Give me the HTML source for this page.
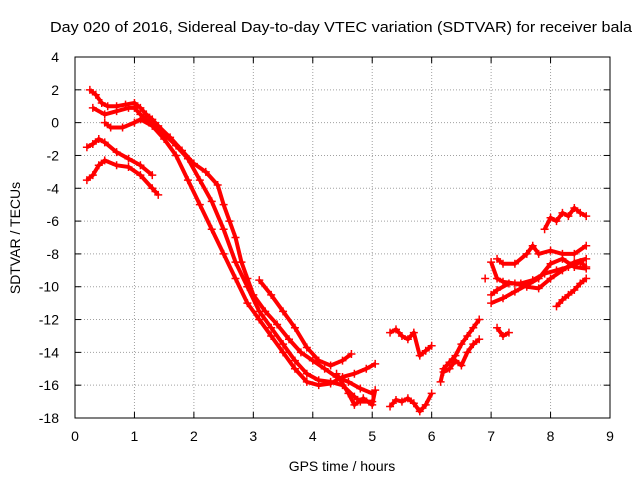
<!DOCTYPE html>
<html><head><meta charset="utf-8"><style>
body{margin:0;background:#fff}
svg text{font-family:"Liberation Sans",sans-serif;font-size:14px;fill:#000}
</style></head><body>
<svg id="chart" width="640" height="480" xmlns="http://www.w3.org/2000/svg">
<rect width="640" height="480" fill="#fff"/>
<text x="50" y="32" textLength="582" lengthAdjust="spacingAndGlyphs" style="font-size:15px">Day 020 of 2016, Sidereal Day-to-day VTEC variation (SDTVAR) for receiver bala</text>
<text x="342" y="471" text-anchor="middle">GPS time / hours</text>
<text x="0" y="0" transform="translate(20,238) rotate(-90)" text-anchor="middle">SDTVAR / TECUs</text>
<g id="grid"></g><g id="axes"></g><g id="marks"></g>
</svg>
<script>
const xTicks=[0,1,2,3,4,5,6,7,8,9];
const yTicks=[4,2,0,-2,-4,-6,-8,-10,-12,-14,-16,-18];
const trackA=[[0.25,2],[0.35,1.7],[0.45,1.2],[0.55,1],[0.7,1],[0.85,1.1],[1.0,1.2],[1.1,0.9],[1.2,0.5],[1.3,0.2],[1.4,-0.2],[1.6,-0.9],[1.8,-1.7],[2.0,-2.5],[2.2,-3],[2.4,-3.8],[2.5,-5],[2.6,-6],[2.7,-7],[2.8,-8.5],[2.9,-9.5],[3.0,-10.5],[3.2,-11.5],[3.4,-12.3],[3.6,-13.2],[3.8,-14],[4.0,-14.5],[4.2,-15],[4.4,-15.5],[4.6,-15.8],[4.8,-16.2],[5.0,-16.5]];
const trackB=[[0.3,0.9],[0.5,0.5],[0.7,0.7],[0.9,0.9],[1.0,0.9],[1.1,0.5],[1.3,-0.1],[1.5,-0.7],[1.7,-1.4],[1.9,-2.2],[2.1,-3.5],[2.3,-4.8],[2.5,-6.5],[2.7,-8.5],[2.9,-10],[3.1,-11.5],[3.3,-12.5],[3.5,-13.5],[3.7,-14.5],[3.9,-15.3],[4.1,-15.7],[4.3,-15.8],[4.5,-16],[4.7,-16.7],[4.8,-17],[5.0,-17]];
const trackC=[[0.5,0],[0.6,-0.3],[0.8,-0.3],[1.0,0],[1.1,0.2],[1.3,-0.2],[1.5,-1],[1.7,-2],[1.9,-3.5],[2.1,-5],[2.3,-6.5],[2.5,-8],[2.7,-9.5],[2.9,-11],[3.1,-12],[3.3,-13],[3.5,-14],[3.7,-15],[3.9,-15.8],[4.1,-16],[4.3,-15.9],[4.5,-15.5],[4.7,-15.3],[4.9,-15],[5.05,-14.7]];
const trackD=[[0.2,-1.5],[0.3,-1.3],[0.4,-1],[0.5,-1.2],[0.7,-1.8],[0.9,-2.2],[1.1,-2.6],[1.3,-3.2]];
const trackE=[[0.2,-3.5],[0.3,-3.2],[0.4,-2.6],[0.5,-2.3],[0.7,-2.6],[0.9,-2.7],[1.1,-3.2],[1.3,-4],[1.4,-4.4]];
const trackF=[[3.1,-9.6],[3.3,-10.5],[3.5,-11.5],[3.7,-12.5],[3.9,-13.7],[4.1,-14.5],[4.3,-14.8],[4.5,-14.5],[4.65,-14.1]];
const trackG=[[4.4,-15.3],[4.6,-16.5],[4.7,-17.2],[4.85,-16.8],[5.0,-17.2],[5.05,-16.3]];
const trackH=[[5.3,-12.8],[5.4,-12.6],[5.5,-13],[5.6,-13.2],[5.7,-12.8],[5.8,-14.2],[5.9,-13.9],[6.0,-13.6]];
const trackI=[[5.3,-17.3],[5.4,-16.9],[5.5,-17],[5.6,-16.8],[5.7,-17.1],[5.8,-17.6],[5.9,-17.2],[6.0,-16.5]];
const trackJ=[[6.15,-15.8],[6.2,-15],[6.3,-14.6],[6.4,-14.2],[6.5,-13.5],[6.6,-13],[6.7,-12.5],[6.8,-12]];
const trackK=[[6.2,-15.2],[6.3,-15],[6.4,-14.5],[6.5,-14.8],[6.6,-14],[6.7,-13.5],[6.8,-13.2]];
const trackL=[[6.9,-9.5]];
const trackM=[[7.0,-10.5],[7.1,-10.2],[7.3,-9.8],[7.5,-9.8],[7.7,-9.6],[7.9,-9.2],[8.1,-9],[8.3,-8.8],[8.5,-8.5],[8.6,-8.8]];
const trackN=[[7.0,-8.5],[7.1,-9.5],[7.2,-9.7],[7.4,-9.8],[7.6,-10],[7.8,-10.1],[8.0,-9.5],[8.2,-9],[8.4,-8.5],[8.6,-8.3]];
const trackO=[[7.1,-8.3],[7.2,-8.6],[7.4,-8.6],[7.6,-8],[7.7,-7.5],[7.8,-8],[8.0,-7.8],[8.2,-8],[8.4,-8],[8.6,-7.5]];
const trackP=[[7.9,-6.5],[8.0,-5.8],[8.1,-6],[8.2,-5.5],[8.3,-5.7],[8.4,-5.2],[8.5,-5.5],[8.6,-5.7]];
const trackQ=[[7.1,-12.5],[7.2,-13],[7.3,-12.8]];
const trackR=[[8.1,-11.2],[8.2,-10.8],[8.3,-10.5],[8.4,-10.2],[8.5,-9.8],[8.6,-9.5]];
const trackS=[[7.0,-11],[7.2,-10.7],[7.4,-10.3],[7.6,-9.9],[7.8,-9.5],[8.0,-8.6],[8.2,-8.3],[8.4,-8.8],[8.6,-8.9]];
const tracks=[trackA,trackB,trackC,trackD,trackE,trackF,trackG,trackH,trackI,trackJ,trackK,trackL,trackM,trackN,trackO,trackP,trackQ,trackR,trackS];

const L=75,R=610,T=57,B=418,X0=0,X1=9,Y0=-18,Y1=4;
const sx=v=>L+(v-X0)/(X1-X0)*(R-L);
const sy=v=>B-(v-Y0)/(Y1-Y0)*(B-T);
const NS="http://www.w3.org/2000/svg";
function mk(tag,attrs,parent){const e=document.createElementNS(NS,tag);for(const k in attrs)e.setAttribute(k,attrs[k]);parent.appendChild(e);return e;}
const grid=document.getElementById('grid'),axes=document.getElementById('axes'),marks=document.getElementById('marks');
xTicks.forEach(t=>{const x=sx(t);
 if(t>X0&&t<X1){const g=mk('line',{x1:x,x2:x,y1:T,y2:B,stroke:'#a0a0a0','stroke-dasharray':'1,2'},grid);}
 mk('line',{x1:x,x2:x,y1:B,y2:B-6,stroke:'#000'},axes);mk('line',{x1:x,x2:x,y1:T,y2:T+6,stroke:'#000'},axes);
 const tx=mk('text',{x:x,y:B+23,'text-anchor':'middle'},axes);tx.textContent=t;
 });
yTicks.forEach(t=>{const y=sy(t);
 if(t>Y0&&t<Y1){const g=mk('line',{x1:L,x2:R,y1:y,y2:y,stroke:'#a0a0a0','stroke-dasharray':'1,2'},grid);}
 mk('line',{x1:L,x2:L+6,y1:y,y2:y,stroke:'#000'},axes);mk('line',{x1:R,x2:R-6,y1:y,y2:y,stroke:'#000'},axes);
 const tx=mk('text',{x:L-16,y:y+5,'text-anchor':'end'},axes);tx.textContent=t;
 });
const fr=mk('rect',{x:L,y:T,width:R-L,height:B-T,fill:'none',stroke:'#000'},axes);

tracks.forEach(tr=>{
 const g=mk('g',{},marks);
 
 
 if(tr.length>1){mk('polyline',{points:tr.map(p=>sx(p[0])+','+sy(p[1])).join(' '),fill:'none',stroke:'#f00','stroke-width':4,'stroke-linejoin':'round'},g);}
 tr.forEach(p=>{const x=sx(p[0]),y=sy(p[1]);
  const m=mk('path',{d:`M${x-4},${y}h8M${x},${y-4}v8`,stroke:'#f00','stroke-width':1.5},g);
  
  });
});
</script>
</body></html>
